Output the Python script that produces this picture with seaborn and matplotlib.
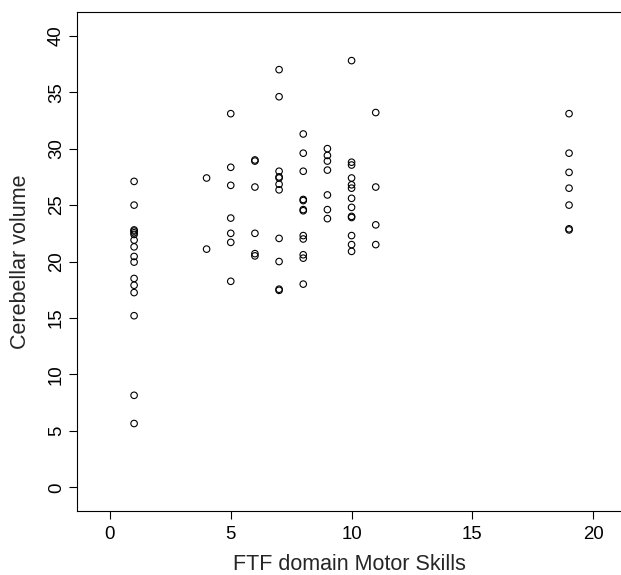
import matplotlib
matplotlib.use("Agg")
import matplotlib.pyplot as plt
import seaborn as sns
import pandas as pd

# FTF motor skills score levels and the cerebellar volumes seen at each
score_levels = [1, 4, 5, 6, 7, 8, 9, 10, 11, 19]
vol_1 = [27.1, 25.0, 22.8, 22.7, 22.55, 22.4, 21.9, 21.3, 20.45, 19.95,
         18.5, 17.9, 17.25, 15.2, 8.15, 5.65]
vol_4 = [27.4, 21.1]
vol_5 = [33.1, 28.35, 26.75, 23.85, 22.5, 21.7, 18.25]
vol_6 = [29.0, 28.9, 26.6, 22.5, 20.7, 20.5]
vol_7 = [37.0, 34.6, 28.0, 27.5, 27.4, 26.85, 26.35, 22.05, 20.0, 17.55, 17.45]
vol_8 = [31.3, 29.6, 28.0, 25.5, 25.4, 24.6, 24.5, 22.3, 22.0, 20.6, 20.3, 18.0]
vol_9 = [30.0, 29.4, 28.9, 28.1, 25.9, 24.6, 23.8]
vol_10 = [37.8, 28.8, 28.55, 27.4, 26.8, 26.5, 25.6, 24.8, 24.0, 23.9,
          22.3, 21.5, 20.9]
vol_11 = [33.2, 26.6, 23.25, 21.5]
vol_19 = [33.1, 29.6, 27.9, 26.5, 25.0, 22.9, 22.8]

x_ticks = [0, 5, 10, 15, 20]
y_ticks = [0, 5, 10, 15, 20, 25, 30, 35, 40]

volumes = [vol_1, vol_4, vol_5, vol_6, vol_7, vol_8, vol_9, vol_10, vol_11, vol_19]
df = pd.concat(
    [pd.DataFrame({"motor": lvl, "volume": v}) for lvl, v in zip(score_levels, volumes)],
    ignore_index=True,
)

sns.set_style("white")
plt.rcParams['font.family'] = ['Liberation Sans', 'DejaVu Sans']

fig = plt.figure(figsize=(6.21, 5.75), dpi=100)
ax = fig.add_axes([0.1245, 0.1113, 0.8755, 0.8677])

sns.scatterplot(data=df, x="motor", y="volume", ax=ax, marker="o",
                facecolor="none", edgecolor="black", s=22, linewidth=0.8)

ax.set_xlim(-1.35, 21.15)
ax.set_ylim(-2.1, 42.1)
ax.set_xticks(x_ticks)
ax.set_yticks(y_ticks)

for side in ["left", "bottom", "top"]:
    ax.spines[side].set_visible(True)
    ax.spines[side].set_color("black")
    ax.spines[side].set_linewidth(0.8)
ax.spines["right"].set_visible(False)

ax.tick_params(axis="both", direction="out", length=6, width=0.8,
               color="black", labelsize=13.4, labelcolor="black",
               bottom=True, left=True)
ax.tick_params(axis="x", pad=5)
ax.tick_params(axis="y", pad=3)
for lab in ax.get_yticklabels():
    lab.set_rotation(90)
    lab.set_va("center")

ax.set_xlabel("FTF domain Motor Skills", fontsize=15.5, labelpad=8)
ax.set_ylabel("Cerebellar volume", fontsize=15.5, labelpad=12)

plt.savefig("out.png", dpi=100)
plt.close()
